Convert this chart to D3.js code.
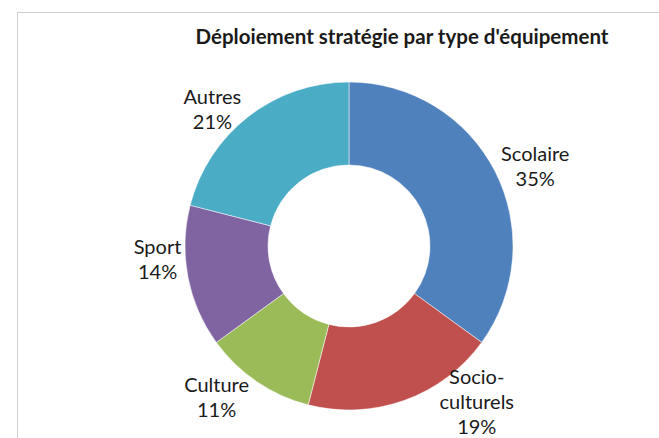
<!DOCTYPE html>
<html>
<head>
<meta charset="utf-8">
<script src="https://cdn.jsdelivr.net/npm/d3@7"></script>
<style>
  body { margin: 0; background: #fff; }
  text { font-family: Lato, "Open Sans", sans-serif; fill: #1a1a1a; }
</style>
</head>
<body>
<div id="chart"></div>
<script>
// The data
var categories = ['Scolaire', 'Socio-culturels', 'Culture', 'Sport', 'Autres'];
var labelLines = [['Scolaire'], ['Socio-', 'culturels'], ['Culture'], ['Sport'], ['Autres']];
var values = [35, 19, 11, 14, 21];
var colors = ['#4F81BD', '#C0504D', '#9BBB59', '#8064A2', '#4BACC6'];

var width = 659, height = 438;
var cx = 349, cy = 246;
var outerR = 164, innerR = 81;

// label nudges (pixels) so labels sit where the spreadsheet put them
var nudge = {
  'Scolaire': [8, 11],
  'Socio-culturels': [60, -32],
  'Culture': [-20, -14],
  'Sport': [5, -24],
  'Autres': [-14, 22]
};

var svg = d3.select('#chart').append('svg')
    .attr('width', width)
    .attr('height', height);

// chart frame (clipped on the right and bottom in the original)
svg.append('rect')
    .attr('x', 17.5)
    .attr('y', 12.5)
    .attr('width', 700)
    .attr('height', 500)
    .style('fill', 'none')
    .style('stroke', '#d0d0d0');

svg.append('text')
    .attr('x', 402)
    .attr('y', 44)
    .attr('text-anchor', 'middle')
    .style('font-size', '20.5px')
    .style('font-weight', 'bold')
    .text("Déploiement stratégie par type d'équipement");

var pie = d3.pie().sort(null).value(function(d) { return d; });
var arcs = pie(values);

var arc = d3.arc().innerRadius(innerR).outerRadius(outerR);
var labelArc = d3.arc().innerRadius(200).outerRadius(200);

var g = svg.append('g')
    .attr('transform', 'translate(' + cx + ',' + cy + ')');

g.selectAll('path')
    .data(arcs)
    .enter()
  .append('path')
    .attr('d', arc)
    .style('fill', function(d, i) { return colors[i]; })
    .style('stroke', '#fff')
    .style('stroke-width', 0.5);

var lineH = 25;
var labels = g.selectAll('text.lbl')
    .data(arcs)
    .enter()
  .append('text')
    .attr('class', 'lbl')
    .attr('text-anchor', 'middle')
    .style('font-size', '20px')
    .attr('transform', function(d, i) {
      var c = labelArc.centroid(d), n = nudge[categories[i]];
      return 'translate(' + (c[0] + n[0]) + ',' + (c[1] + n[1]) + ')';
    });

labels.each(function(d, i) {
  var lines = labelLines[i].concat([d3.format('.0f')(values[i]) + '%']);
  var t = d3.select(this);
  var start = -(lines.length - 1) * lineH / 2;
  lines.forEach(function(l, k) {
    t.append('tspan')
        .attr('x', 0)
        .attr('y', start + k * lineH)
        .attr('dy', '0.35em')
        .text(l);
  });
});
</script>
</body>
</html>
